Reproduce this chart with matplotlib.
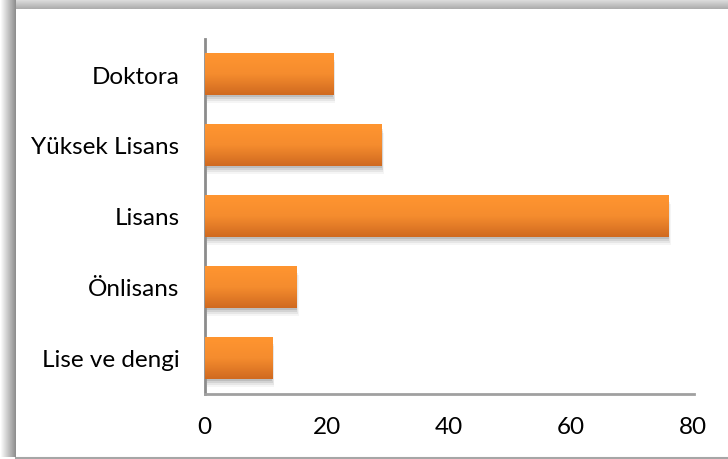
import numpy as np
import matplotlib
matplotlib.use("Agg")
import matplotlib.pyplot as plt
import matplotlib.patheffects as pe
from matplotlib.colors import LinearSegmentedColormap

plt.rcParams['font.family'] = ['Lato', 'DejaVu Sans']

# egitim durumu dagilimi
categories = ['Lise ve dengi', 'Önlisans', 'Lisans', 'Yüksek Lisans', 'Doktora']
values = [11, 15, 76, 29, 21]
xticks = [0, 20, 40, 60, 80]

W, H = 728, 460
fig = plt.figure(figsize=(W / 100, H / 100), dpi=100)

# cerceve golgesi (sol ve ust kenar)
bg = fig.add_axes([0, 0, 1, 1], zorder=-10)
bg.set_xlim(0, W)
bg.set_ylim(H, 0)
bg.axis('off')
left_grad = np.linspace(1.0, 0.56, 16)[None, :]
bg.imshow(np.repeat(left_grad, 2, axis=0), cmap='gray', vmin=0, vmax=1,
          extent=[0, 16, H - 2, 0], aspect='auto')
top_grad = np.linspace(0.88, 0.68, 10)[:, None]
bg.imshow(np.repeat(top_grad, 2, axis=1), cmap='gray', vmin=0, vmax=1,
          extent=[16, W, 10, 0], aspect='auto')
bg.plot([16, W], [458.5, 458.5], color='#a6a6a6', lw=1.5)

ax = fig.add_axes([204.5 / W, 65.5 / H, 488 / W, 355 / H])
y = np.arange(len(categories))
bars = ax.barh(y, values, height=0.58, color='#e8822a', zorder=2)

shadow = [pe.SimplePatchShadow(offset=(ox, oy), shadow_rgbFace='black', alpha=a)
          for ox, oy, a in [(2, -6, 0.04), (1.5, -4.5, 0.06), (1, -3, 0.08), (0.5, -1.5, 0.1)]]
orange = LinearSegmentedColormap.from_list('turuncu', ['#ff9530', '#f58c2e', '#d06a20'])
grad = np.linspace(0, 1, 64)[:, None]
for b in bars:
    b.set_path_effects(shadow + [pe.Normal()])
    x0, y0, w, h = b.get_x(), b.get_y(), b.get_width(), b.get_height()
    im = ax.imshow(grad, cmap=orange, extent=[x0, x0 + w, y0, y0 + h],
                   aspect='auto', zorder=3, interpolation='bilinear')
    im.set_clip_path(b)

ax.set_xlim(0, 80)
ax.set_ylim(-0.5, 4.5)
ax.set_xticks(xticks)
ax.set_yticks(y)
ax.set_yticklabels(categories)
ax.tick_params(axis='both', length=0, labelsize=17.5, colors='black')
ax.tick_params(axis='x', pad=16)
ax.tick_params(axis='y', pad=18)
for s in ['top', 'right']:
    ax.spines[s].set_visible(False)
ax.spines['left'].set_color('#8c8c8c')
ax.spines['left'].set_linewidth(2)
ax.spines['bottom'].set_color('#a0a0a0')
ax.spines['bottom'].set_linewidth(2)
ax.spines['bottom'].set_bounds(0, 80.2)

fig.savefig('out.png', dpi=100)
